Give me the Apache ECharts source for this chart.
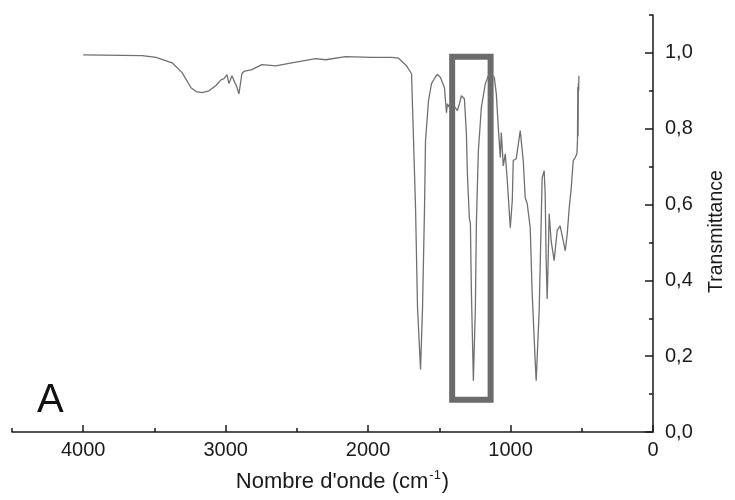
<!DOCTYPE html>
<html>
<head>
<meta charset="utf-8">
<script src="https://cdn.jsdelivr.net/npm/echarts@6/dist/echarts.min.js"></script>
<style>html,body{margin:0;padding:0;background:#fff}#c{width:735px;height:500px}</style>
</head>
<body>
<div id="c"></div>
<script>
// Wavenumber (cm-1) and transmittance
const wavenumber = [
 4000,3587,3489,3376,3306,3243,3208,3166,3117,3068,3033,3012,2991,2977,2956,2935,2925,2907,2886,2872,2816,2746,2648,2536,2368,2298,2158,1975,1835,1786,1730,1695,
 1688,1667,1653,1632,1618,1604,1597,1576,1555,1527,1513,1492,1485,1464,1450,1443,1429,1415,1401,1387,1373,1359,1345,1331,1324,1310,1303,1289,1282,1275,1261,
 1247,1240,1226,1205,1177,1156,1135,1114,1100,1086,1072,1065,1051,1037,1023,1002,988,981,960,932,911,897,883,862,848,827,820,
 799,785,778,764,757,750,743,736,729,715,694,680,673,652,645,630,616,602,588,574,560,546,534,530,528,526,524,522,520
];
const transmittance = [
 0.995,0.993,0.988,0.974,0.948,0.908,0.898,0.895,0.900,0.914,0.929,0.932,0.943,0.919,0.940,0.921,0.914,0.892,0.945,0.951,0.956,0.969,0.966,0.974,0.985,0.982,0.990,0.988,0.988,0.986,0.966,0.945,
 0.856,0.591,0.327,0.165,0.327,0.591,0.768,0.874,0.919,0.937,0.943,0.935,0.940,0.908,0.842,0.866,0.856,0.869,0.862,0.861,0.848,0.866,0.887,0.892,0.879,0.787,0.681,0.562,0.552,0.372,0.135,
 0.327,0.549,0.742,0.856,0.919,0.940,0.945,0.935,0.892,0.803,0.724,0.790,0.702,0.734,0.663,0.539,0.610,0.716,0.721,0.795,0.716,0.618,0.602,0.539,0.364,0.187,0.135,
 0.320,0.557,0.671,0.689,0.628,0.452,0.351,0.452,0.576,0.504,0.452,0.504,0.531,0.544,0.549,0.504,0.478,0.523,0.592,0.644,0.716,0.724,0.734,0.770,0.910,0.780,0.920,0.900,0.940
];
const xMajorTicks = [0, 1000, 2000, 3000, 4000];
const yMajorTicks = [0, 0.2, 0.4, 0.6, 0.8, 1.0];
const boxWavenumber = [1410, 1140];
const boxTransmittance = [0.99, 0.085];

const chart = echarts.init(document.getElementById('c'), null, {renderer: 'canvas'});
const font = 'Liberation Sans, Arial, sans-serif';
const axisColor = '#1a1a1a';
const seriesData = wavenumber.map((w, i) => [w, transmittance[i]]);

chart.setOption({
  animation: false,
  backgroundColor: '#ffffff',
  grid: {left: 12, right: 80, top: 15, bottom: 68, containLabel: false},
  xAxis: [{
    type: 'value', inverse: true, min: 0, max: 4500, interval: 500,
    position: 'bottom',
    axisLine: {show: true, onZero: false, lineStyle: {color: axisColor, width: 1.5}},
    axisTick: {show: true, inside: true, length: 7, customValues: xMajorTicks, lineStyle: {color: axisColor, width: 1.5}},
    axisLabel: {show: true, customValues: xMajorTicks, color: axisColor, fontFamily: font, fontSize: 20, margin: 8,
      formatter: v => String(v)},
    splitLine: {show: false},
    name: "{t|Nombre d'onde (cm}{s|-1}{t|)}",
    nameLocation: 'middle', nameGap: 37,
    nameTextStyle: {
      padding: [0, 0, 0, 20],
      rich: {
        t: {fontFamily: font, fontSize: 22, color: axisColor, lineHeight: 26},
        s: {fontFamily: font, fontSize: 13, color: axisColor, lineHeight: 26, padding: [0, 1, 13, 1]}
      }
    }
  }, {
    type: 'value', inverse: true, min: 0, max: 4500, interval: 500,
    position: 'bottom',
    axisLine: {show: false, onZero: false},
    axisTick: {show: true, inside: true, length: 4, lineStyle: {color: axisColor, width: 1.5}},
    axisLabel: {show: false},
    splitLine: {show: false}
  }],
  yAxis: [{
    type: 'value', min: 0, max: 1.1, interval: 0.2,
    position: 'right',
    axisLine: {show: true, onZero: false, lineStyle: {color: axisColor, width: 1.5}},
    axisTick: {show: true, inside: true, length: 8, customValues: yMajorTicks, lineStyle: {color: axisColor, width: 1.5}},
    axisLabel: {show: true, customValues: yMajorTicks, color: axisColor, fontFamily: font, fontSize: 20, margin: 12,
      formatter: v => v.toFixed(1).replace('.', ',')},
    splitLine: {show: false},
    name: 'Transmittance', nameLocation: 'middle', nameGap: 54, nameRotate: 90,
    nameTextStyle: {fontFamily: font, fontSize: 19.5, color: axisColor, padding: [0, 16, 0, 0]}
  }, {
    type: 'value', min: 0, max: 1.1, interval: 0.1,
    position: 'right',
    axisLine: {show: false, onZero: false},
    axisTick: {show: true, inside: true, length: 4, lineStyle: {color: axisColor, width: 1.5}},
    axisLabel: {show: false},
    splitLine: {show: false}
  }],
  series: [{
    type: 'line', xAxisIndex: 0, yAxisIndex: 0,
    data: seriesData, showSymbol: false, symbol: 'none',
    lineStyle: {color: '#707070', width: 1.3},
    z: 2
  }, {
    type: 'line', xAxisIndex: 0, yAxisIndex: 0, data: [], z: 5,
    markArea: {
      silent: true,
      itemStyle: {color: 'rgba(0,0,0,0)', borderColor: '#6b6b6b', borderWidth: 6},
      data: [[{coord: [boxWavenumber[0], boxTransmittance[0]]}, {coord: [boxWavenumber[1], boxTransmittance[1]]}]]
    }
  }],
  graphic: [{
    type: 'text', left: 37, top: 381,
    style: {text: 'A', fontFamily: font, fontSize: 40, fill: '#111'}
  }]
});
</script>
</body>
</html>
